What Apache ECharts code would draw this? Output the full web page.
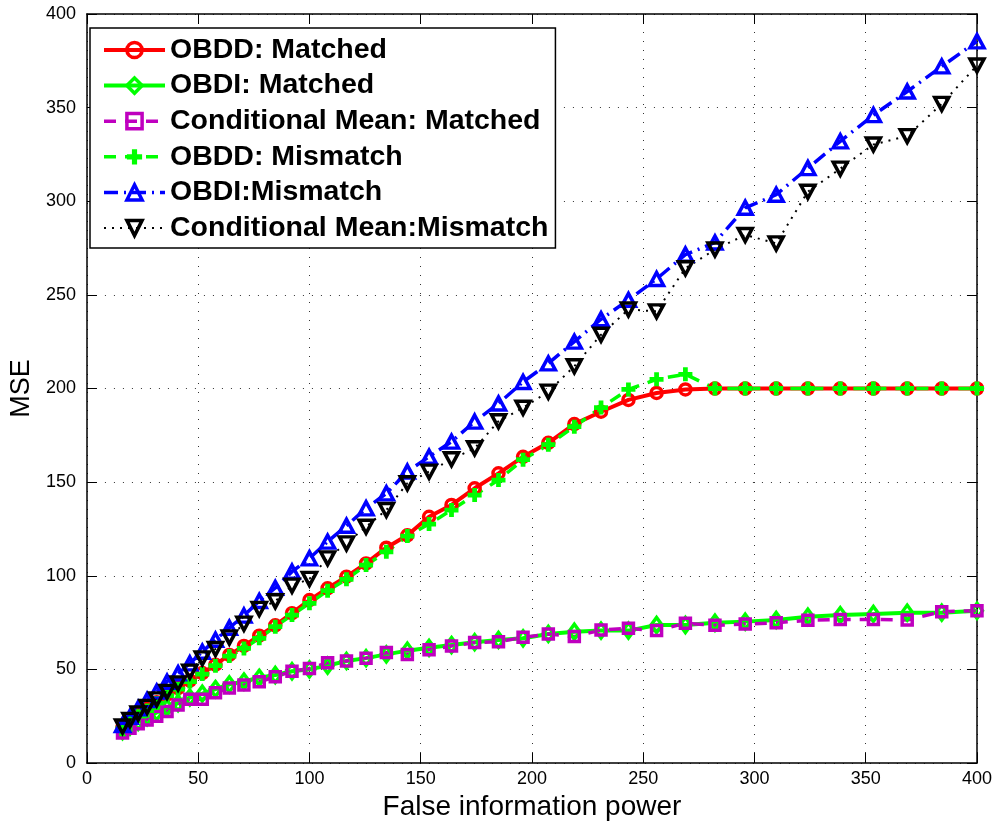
<!DOCTYPE html>
<html>
<head>
<meta charset="utf-8">
<script src="https://cdn.jsdelivr.net/npm/echarts@6/dist/echarts.min.js"></script>
<style>
html,body{margin:0;padding:0;background:#fff;}
#chart{width:995px;height:826px;}
</style>
</head>
<body>
<div id="chart"></div>
<script>
const xValues = [16,19.36,23.04,27.04,31.36,36,40.96,46.24,51.84,57.76,64,70.56,77.44,84.64,92.16,100,108.16,116.64,125.44,134.56,144,153.76,163.84,174.24,184.96,196,207.36,219.04,231.04,243.36,256,268.96,282.24,295.84,309.76,324,338.56,353.44,368.64,384.16,400];

const obddMatched = [19,22,25.5,29,32.5,36.5,40,44,48,52.5,57.7,62.5,68,73.5,80,87,93.3,99.5,106.6,115,121.6,131.5,137.8,146.7,154.7,163.5,171,181,187.6,193.9,197.6,199.5,200,200,200,200,200,200,200,200,200];
const obdiMatched = [17,19.5,22,24.5,27,29.5,32,35,37,39.5,42,43.5,45.5,47,49,50,52,54.5,56,58,60,61.5,63,64.5,65.7,66.6,68.9,70.1,70.7,70.7,73.7,73.7,74.9,75.5,76.4,78.1,79,79.6,80.3,80.3,81.3];
const cmMatched = [16,18.5,21,23,25,27.5,31,34,34,37.5,40,41.7,43.4,46,49,50.5,53.5,54.5,56,59,58,60.5,62.5,64.3,64.8,67.1,68.9,67.5,71,71.9,70.7,74.6,73.5,74.2,74.9,76.2,76.7,76.7,76.4,80.8,81.3];
const obddMismatch = [18.5,21.5,25,28,32,36,39.5,43.5,47.5,52,57.1,61.2,66.6,72.8,79,85.3,92,98.1,105.7,112.8,121.2,127.6,135.1,143.1,151.1,162,170,179.6,189.8,199.5,204.9,207.6,200,200,200,200,200,200,200,200,200];
const obdiMismatch = [20.3,24.7,29.2,33.6,38.1,43.4,47.9,53.2,59.4,65.8,72.2,78.7,86.5,93.5,102.2,109.3,118.2,126.7,136,144,155.6,163.6,171.6,182.3,192,203.5,213.4,225,237,247.3,258.5,271.5,278,296.5,303.5,317.7,332,346,358.6,372,385.4];
const cmMismatch = [19.5,23,26.5,30,34,38,42.5,48.8,55.9,60.9,67.1,74.4,82.3,86.4,94.7,98.3,109.3,117.3,126.2,135.1,149.4,155.6,162.2,168.1,182.5,189.7,198.3,211.9,228.7,242.2,241.2,264.2,274.2,282,277.5,305.1,317.4,330.3,334.8,352,372.5];

const seriesNames = ['OBDD: Matched','OBDI: Matched','Conditional Mean: Matched','OBDD: Mismatch','OBDI:Mismatch','Conditional Mean:Mismatch'];
const tickValues = [0,50,100,150,200,250,300,350,400];

const pair = ys => xValues.map((x, i) => [x, ys[i]]);
const FONT = '"Liberation Sans", Arial, Helvetica, sans-serif';
const PLUS = 'path://M3.3,0H6.7V3.3H10V6.7H6.7V10H3.3V6.7H0V3.3H3.3Z';
const DOWN = 'path://M0,0L10,0L5,10Z';

const styles = [
  {color: '#ff0000', type: 'solid', symbol: 'circle', size: 11, filled: false, lw: 4},
  {color: '#00ff00', type: 'solid', symbol: 'diamond', size: [11, 15], filled: false, lw: 4},
  {color: '#bf00bf', type: [12, 9], symbol: 'rect', size: 10, filled: false, lw: 3.5},
  {color: '#00ff00', type: [12, 9], symbol: PLUS, size: 14, filled: true, lw: 3.5},
  {color: '#0000ff', type: [14, 6, 2, 6], symbol: 'triangle', size: [14, 13], filled: false, lw: 3.5},
  {color: '#000000', type: [2, 6], symbol: DOWN, size: [14, 13], filled: false, lw: 2}
];
const dataSets = [obddMatched, obdiMatched, cmMatched, obddMismatch, obdiMismatch, cmMismatch];

function itemStyleOf(s) {
  return s.filled ? {color: s.color, borderWidth: 0}
                  : {color: 'rgba(255,255,255,0)', borderColor: s.color, borderWidth: 3.5};
}

const series = styles.map((s, k) => ({
  name: seriesNames[k], type: 'line', data: pair(dataSets[k]),
  symbol: s.symbol, symbolSize: s.size, showAllSymbol: true,
  lineStyle: {color: s.color, width: s.lw, type: s.type},
  itemStyle: itemStyleOf(s),
  emphasis: {disabled: true},
  animation: false
}));

const legendData = styles.map((s, k) => ({
  name: seriesNames[k],
  lineStyle: {color: s.color, width: s.lw, type: s.type},
  itemStyle: itemStyleOf(s)
}));

const chart = echarts.init(document.getElementById('chart'), null, {renderer: 'canvas'});
const axisCommon = {
  type: 'value', min: 0, max: 400, interval: 50,
  axisLine: {show: true, onZero: false, lineStyle: {color: '#000', width: 1.5}},
  axisTick: {show: true, inside: true, length: 10, lineStyle: {color: '#000', width: 1}},
};
chart.setOption({
  backgroundColor: '#fff',
  animation: false,
  grid: {left: 84, right: 16, top: 14, bottom: 63, containLabel: false},
  xAxis: [
    Object.assign({}, axisCommon, {
      position: 'bottom',
      name: 'False information power', nameLocation: 'middle', nameGap: 26,
      nameTextStyle: {fontFamily: FONT, fontSize: 28, color: '#000'},
      axisLabel: {fontFamily: FONT, fontSize: 18, color: '#000', margin: 7,
        formatter: v => tickValues.includes(v) ? String(v) : ''},
      splitLine: {show: true, lineStyle: {color: '#333', width: 1, type: [1, 8]}}
    }),
    Object.assign({}, axisCommon, {position: 'top', axisLabel: {show: false}, splitLine: {show: false}})
  ],
  yAxis: [
    Object.assign({}, axisCommon, {
      position: 'left',
      name: 'MSE', nameLocation: 'middle', nameGap: 40,
      nameTextStyle: {fontFamily: FONT, fontSize: 27, color: '#000'},
      axisLabel: {fontFamily: FONT, fontSize: 18, color: '#000', margin: 11},
      splitLine: {show: true, lineStyle: {color: '#333', width: 1, type: [1, 8]}}
    }),
    Object.assign({}, axisCommon, {position: 'right', axisLabel: {show: false}, splitLine: {show: false}})
  ],
  legend: {
    orient: 'vertical', left: 90, top: 28,
    data: legendData,
    backgroundColor: '#fff', borderColor: '#000', borderWidth: 1.5,
    padding: [6, 7, 4, 12],
    itemWidth: 61, itemHeight: 19, itemGap: 3.6,
    textStyle: {fontFamily: FONT, fontSize: 28.5, fontWeight: 'bold', color: '#000', lineHeight: 32},
    selectedMode: false
  },
  series: series
});
</script>
</body>
</html>
